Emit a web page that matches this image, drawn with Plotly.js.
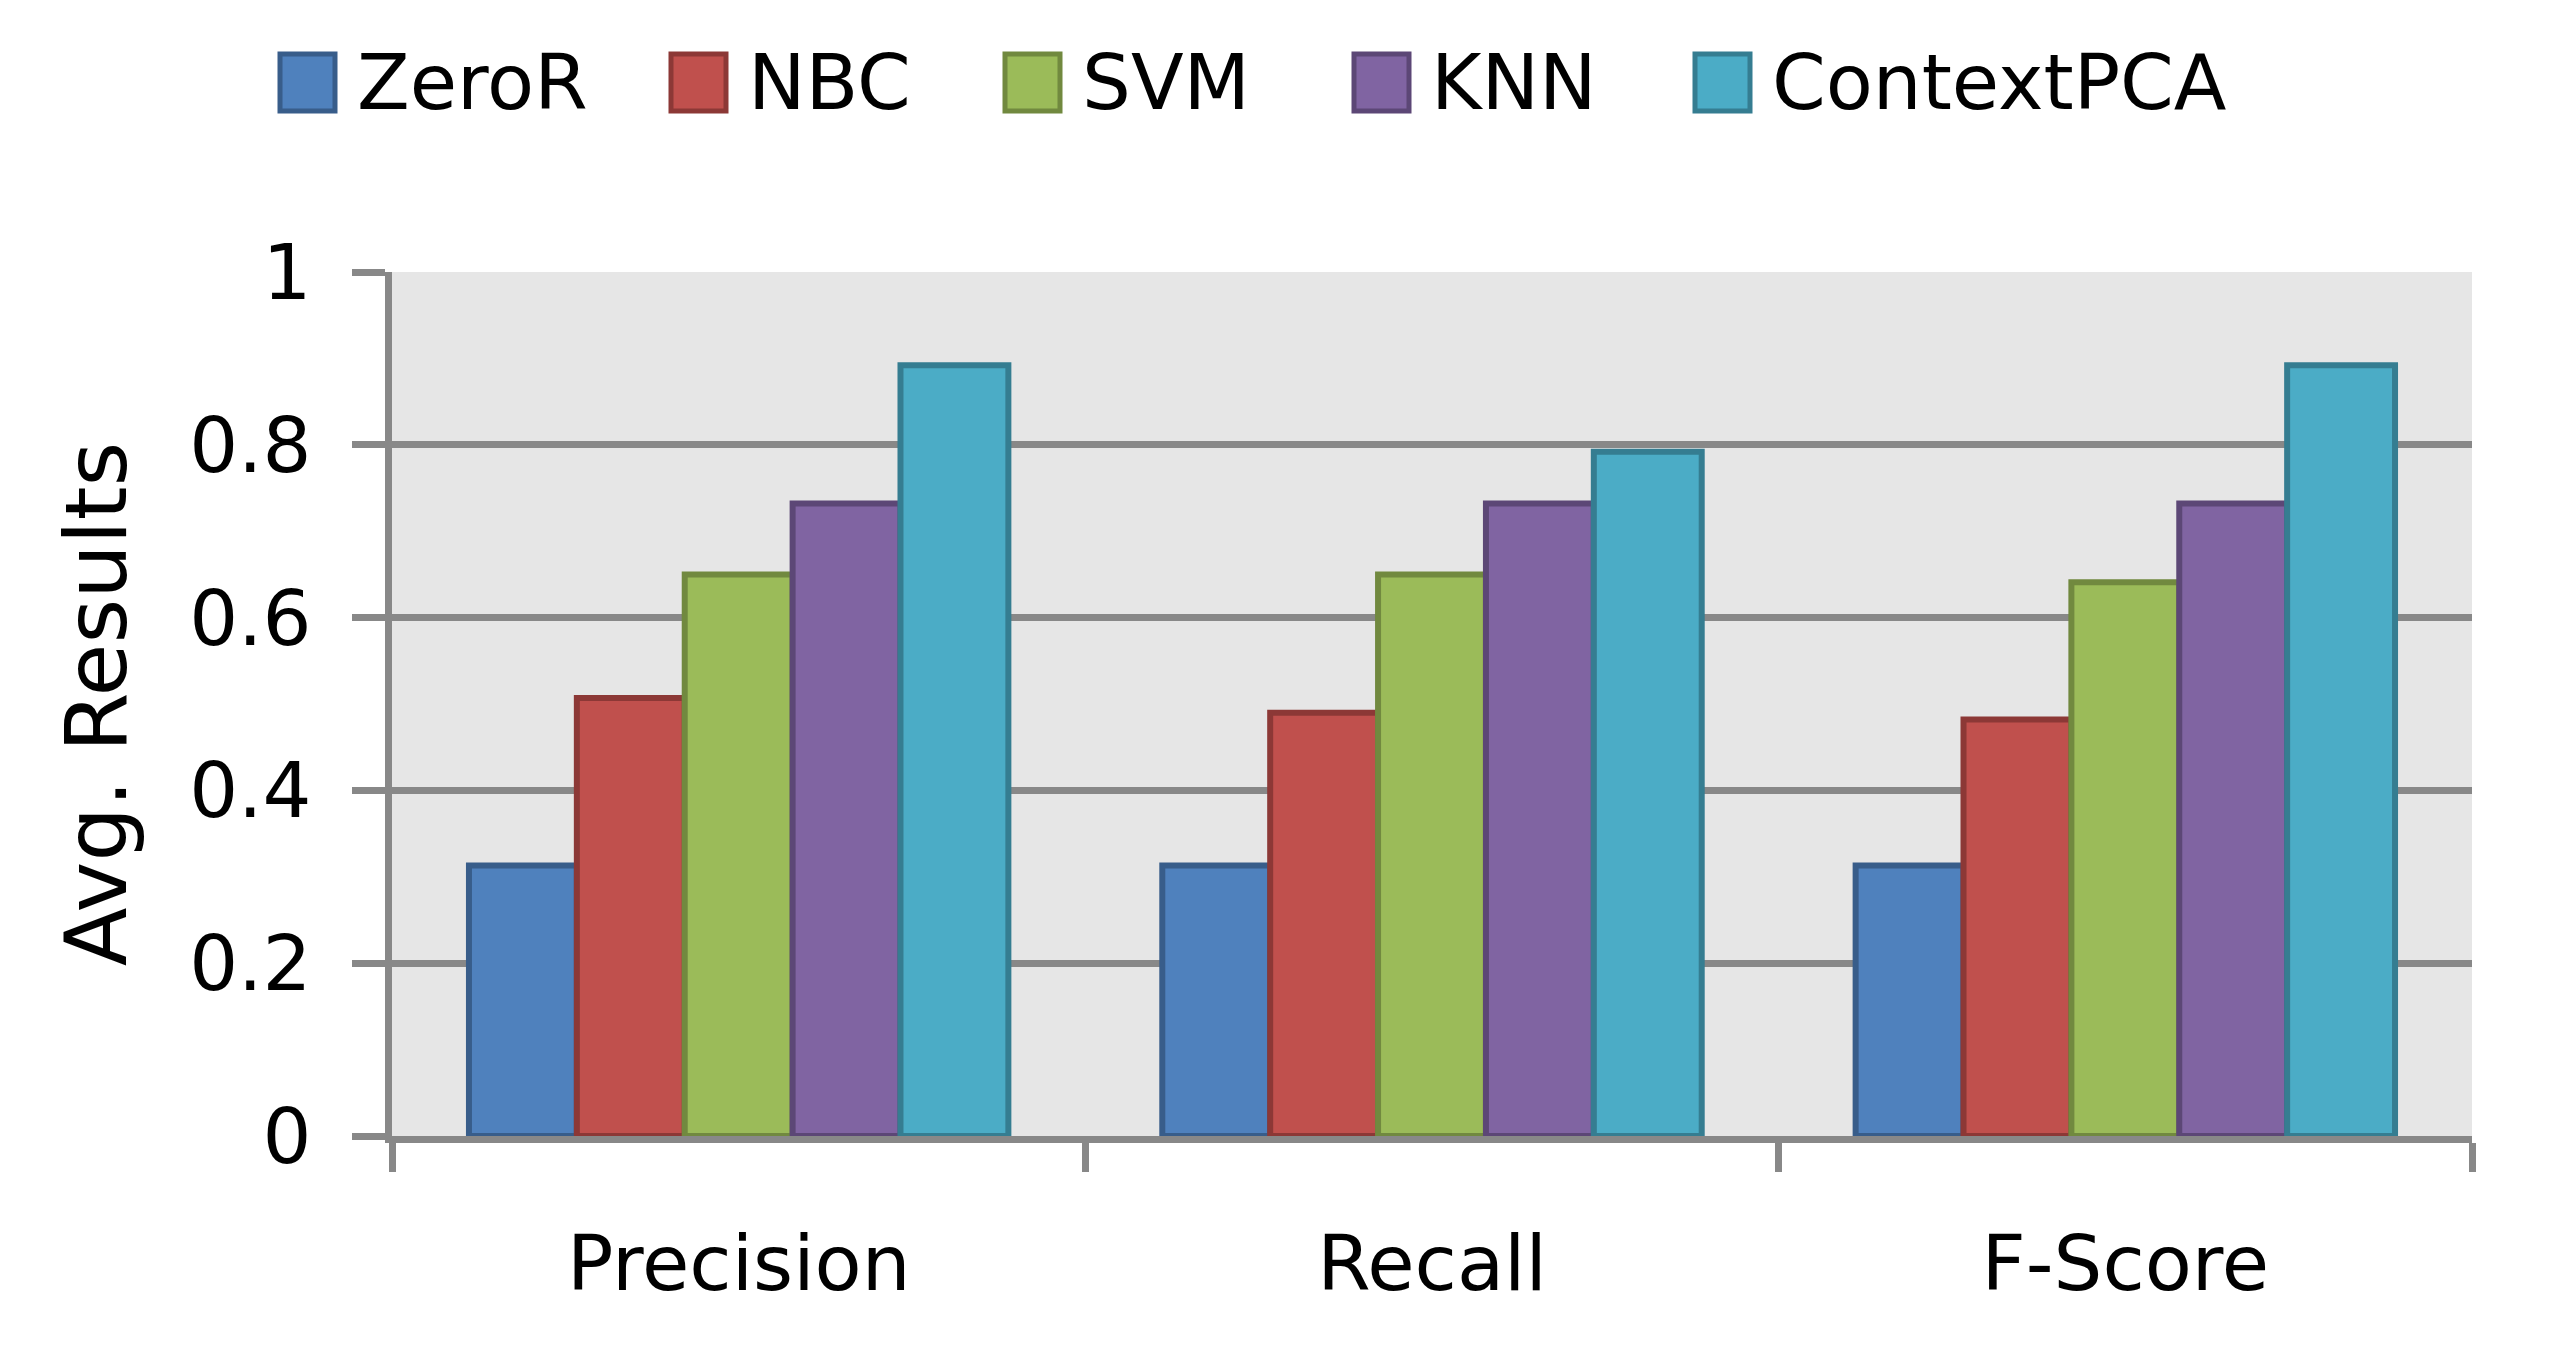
<!DOCTYPE html>
<html><head><meta charset="utf-8">
<script src="https://cdn.plot.ly/plotly-3.0.1.min.js"></script>
<style>html,body{margin:0;padding:0;background:#fff;}#chart{width:2555px;height:1346px;}</style>
</head><body><div id="chart"></div>
<script>
// ---- data ----
const categories = ["Precision", "Recall", "F-Score"];
const seriesNames = ["ZeroR", "NBC", "SVM", "KNN", "ContextPCA"];
const zeroR      = [0.313, 0.313, 0.313];
const nbc        = [0.507, 0.490, 0.482];
const svm        = [0.650, 0.650, 0.641];
const knn        = [0.732, 0.732, 0.732];
const contextPCA = [0.892, 0.792, 0.892];
const yTickVals  = [0, 0.2, 0.4, 0.6, 0.8, 1];
const yTickText  = ["0", "0.2", "0.4", "0.6", "0.8", "1"];
const yTitle = "Avg. Results";

// ---- styles ----
const fills   = ["#4F81BD", "#C0504D", "#9BBB59", "#8064A2", "#4BACC6"];
const borders = ["#385D8A", "#8C3836", "#71893F", "#5C4776", "#357D91"];
const FONT = "DejaVu Sans";
const GRID = "#888888";

const W = 2555, H = 1346;
const M = {l: 392, r: 83, t: 272, b: 210};
const PW = W - M.l - M.r, PH = H - M.t - M.b;
const px2x = p => (p - M.l) / PW;
const px2y = q => (H - M.b - q) / PH;

const seriesValues = [zeroR, nbc, svm, knn, contextPCA];
const traces = seriesNames.map((name, i) => ({
  type: "bar",
  name: name,
  x: categories,
  y: seriesValues[i],
  marker: {color: fills[i], line: {color: borders[i], width: 6}},
  showlegend: false,
  hoverinfo: "x+y+name"
}));

// custom legend (large square swatches like the original)
const legendLeft = [280, 671, 1005, 1354, 1695];
const swTop = 54, swBot = 111, swW = 55;
const shapes = [], annotations = [];
seriesNames.forEach((name, i) => {
  shapes.push({
    type: "rect", xref: "paper", yref: "paper",
    x0: px2x(legendLeft[i]), x1: px2x(legendLeft[i] + swW),
    y0: px2y(swBot), y1: px2y(swTop),
    fillcolor: fills[i], line: {color: borders[i], width: 5}
  });
  annotations.push({
    xref: "paper", yref: "paper",
    x: px2x(legendLeft[i] + swW + 20), y: px2y((swTop + swBot) / 2),
    xanchor: "left", yanchor: "middle",
    text: name, showarrow: false,
    font: {family: FONT, size: 77, color: "#000"}
  });
});

const layout = {
  width: W, height: H,
  margin: M,
  paper_bgcolor: "#ffffff",
  plot_bgcolor: "#E6E6E6",
  barmode: "group",
  bargap: 0.222,
  bargroupgap: 0,
  showlegend: false,
  font: {family: FONT, size: 77, color: "#000"},
  xaxis: {
    type: "category",
    tickson: "boundaries",
    ticks: "outside", ticklen: 29, tickwidth: 7, tickcolor: GRID,
    showline: true, linecolor: GRID, linewidth: 7,
    showgrid: false, zeroline: false,
    tickfont: {family: FONT, size: 77, color: "#000"},
    ticklabelstandoff: 55
  },
  yaxis: {
    range: [0, 1],
    tickvals: yTickVals, ticktext: yTickText,
    ticks: "outside", ticklen: 33, tickwidth: 7, tickcolor: GRID,
    showline: true, linecolor: GRID, linewidth: 7,
    showgrid: true, gridcolor: GRID, gridwidth: 7,
    zeroline: false,
    tickfont: {family: FONT, size: 77, color: "#000"},
    ticklabelstandoff: 25,
    title: {text: yTitle, font: {family: FONT, size: 86, color: "#000"}, standoff: 37}
  },
  shapes: shapes,
  annotations: annotations
};

Plotly.newPlot("chart", traces, layout, {displayModeBar: false, staticPlot: true});
</script>
</body></html>
